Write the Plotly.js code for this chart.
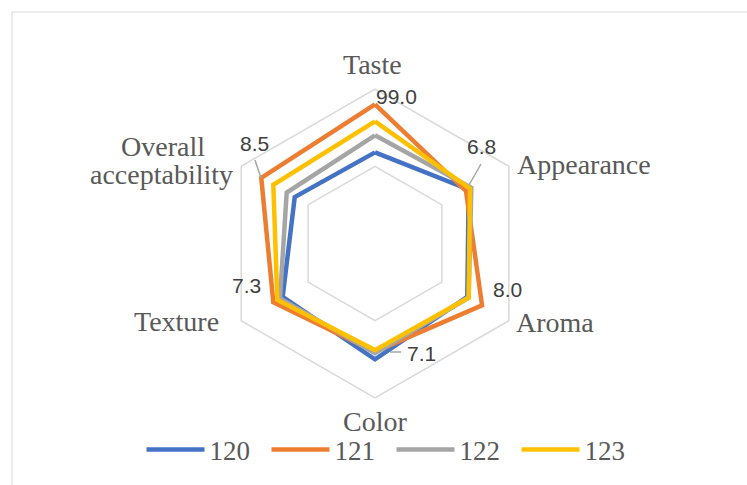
<!DOCTYPE html>
<html>
<head>
<meta charset="utf-8">
<script src="https://cdn.plot.ly/plotly-3.0.1.min.js"></script>
<style>html,body{margin:0;padding:0;background:#fff;}#chart{width:747px;height:485px;}</style>
</head>
<body>
<div id="chart"></div>
<script>
// ---- data ----
const categories = ["Taste", "Appearance", "Aroma", "Color", "Texture", "Overall acceptability"];
const seriesNames = ["120", "121", "122", "123"];
const s120 = [5.9, 7.0, 6.9, 7.5, 6.9, 6.0];
const s121 = [9.0, 6.8, 8.0, 7.0, 7.6, 8.5];
const s122 = [7.0, 7.2, 7.0, 7.1, 7.1, 6.6];
const s123 = [7.9, 7.1, 7.0, 6.9, 7.3, 7.6];
const dataLabels = ["99.0", "6.8", "8.0", "7.1", "7.3", "8.5"];
const categoryLabelLines = ["Taste", "Appearance", "Aroma", "Color", "Texture", "Overall", "acceptability"];

// ---- styling ----
const colors = ["#4472C4", "#ED7D31", "#A5A5A5", "#FFC000"];
const W = 747, H = 485;
const cx = 375, cy = 243.5, R = 154.5;
const px = x => x / W;
const py = y => 1 - y / H;

const allSeries = [s120, s121, s122, s123];
const traces = allSeries.map((vals, i) => ({
  type: "scatterpolar",
  r: vals.concat([vals[0]]),
  theta: categories.concat([categories[0]]),
  mode: "lines",
  name: seriesNames[i],
  line: {color: colors[i], width: 4.5},
  hoverinfo: "skip"
}));

const catPos = [[372, 65], [584, 164.5], [554.5, 322.5], [375, 421], [176.5, 321], [163, 146.5], [161.5, 174.5]];
const annotations = categoryLabelLines.map((t, i) => ({
  text: t, xref: "paper", yref: "paper", x: px(catPos[i][0]), y: py(catPos[i][1]),
  xanchor: "center", yanchor: "middle", showarrow: false, align: "center",
  font: {family: "Liberation Serif, Times New Roman, serif", size: 28, color: "#595959"}
}));
const labPos = [[396.5, 97], [481, 146.5], [507.5, 289], [421, 353], [246, 285], [254, 143.5]];
dataLabels.forEach((t, i) => annotations.push({
  text: t, xref: "paper", yref: "paper", x: px(labPos[i][0]), y: py(labPos[i][1]),
  xanchor: "center", yanchor: "middle", showarrow: false,
  font: {family: "Liberation Sans, Arial, sans-serif", size: 21, color: "#404040"}
}));

const leader = (x0, y0, x1, y1) => ({type: "line", xref: "paper", yref: "paper",
  x0: px(x0), y0: py(y0), x1: px(x1), y1: py(y1), line: {color: "#A5A5A5", width: 1.5}});
const shapes = [
  {type: "rect", xref: "paper", yref: "paper", x0: px(12), y0: -0.1, x1: 1.1, y1: py(12),
   line: {color: "#D9D9D9", width: 1}, fillcolor: "rgba(0,0,0,0)", layer: "below"},
  leader(481, 164, 469, 185),
  leader(255, 160, 261, 178),
  leader(390, 352, 401, 352)
];

const layout = {
  width: W, height: H,
  margin: {l: 0, r: 0, t: 0, b: 0},
  paper_bgcolor: "#ffffff",
  showlegend: true,
  polar: {
    domain: {x: [px(cx - R), px(cx + R)], y: [py(cy + R), py(cy - R)]},
    bgcolor: "#ffffff",
    gridshape: "linear",
    radialaxis: {range: [0, 10], dtick: 5, showticklabels: false, ticks: "", showline: false,
      gridcolor: "#D9D9D9", gridwidth: 1.5},
    angularaxis: {rotation: 90, direction: "clockwise", showgrid: false, showticklabels: false,
      ticks: "", showline: true, linecolor: "#D9D9D9", linewidth: 1.5}
  },
  legend: {orientation: "h", x: 0.5 + 18 / W, xanchor: "center", y: py(450), yanchor: "middle",
    itemwidth: 58, entrywidth: 52, entrywidthmode: "pixels",
    font: {family: "Liberation Serif, Times New Roman, serif", size: 27, color: "#595959"},
    bgcolor: "rgba(0,0,0,0)"},
  annotations: annotations,
  shapes: shapes
};

Plotly.newPlot("chart", traces, layout, {displayModeBar: false, staticPlot: true});
</script>
</body>
</html>
